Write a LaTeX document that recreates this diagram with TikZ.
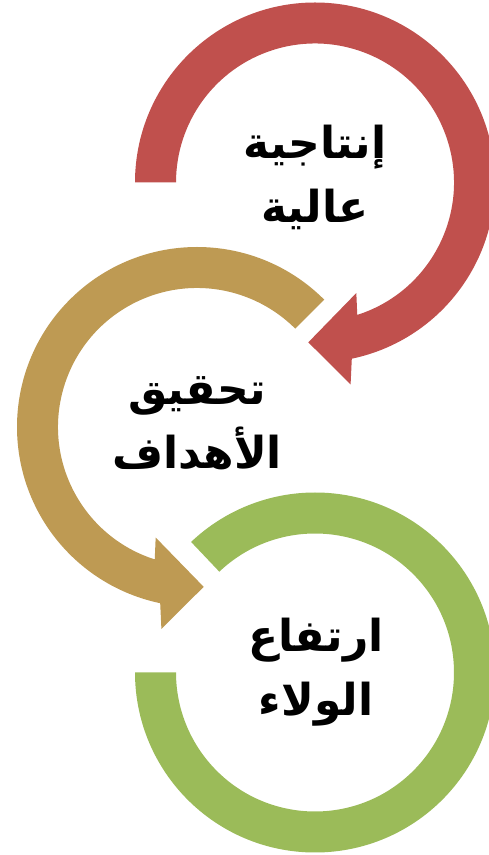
\documentclass[tikz,border=0pt]{standalone}
\usepackage{fontspec}
\newfontfamily\arabicfont[Script=Arabic]{DejaVu Sans}
\TeXXeTstate=1
\definecolor{ringred}{HTML}{C0504D}
\definecolor{ringgold}{HTML}{BE9A53}
\definecolor{ringgreen}{HTML}{9BBB59}
\begin{document}
\begin{tikzpicture}[x=1pt, y=1pt,
        ringtext/.style = {align=center,
        font=\arabicfont\bfseries\fontsize{44}{64}\selectfont}]
    \clip (0,0) rectangle (489,855);
    % red arrow, clockwise
    \fill[ringred, shift={(315,672.5)}] (180:180)
        arc[start angle=180, end angle=-78.2, radius=180]
        -- (-80:205) -- (-92.4:160) -- (-69.5:118) -- (-72.3:139)
        arc[start angle=-72.3, end angle=180, radius=139] -- cycle;
    % gold arrow, counterclockwise
    \fill[ringgold, shift={(197,428)}] (45:180)
        arc[start angle=45, end angle=258.2, radius=180]
        -- (260:205) -- (272.4:160) -- (249.5:118) -- (252.3:139)
        arc[start angle=252.3, end angle=45, radius=139] -- cycle;
    % green ring
    \fill[ringgreen, shift={(315,182.5)}] (180:180)
        arc[start angle=180, end angle=493.5, radius=180]
        -- (133.5:139)
        arc[start angle=133.5, end angle=-180, radius=139] -- cycle;
    \node[ringtext] (productivity) at (315,678) {\beginR إنتاجية\endR\\\beginR عالية\endR};
    \node[ringtext] (goals) at (197,432) {\beginR تحقيق\endR\\\beginR الأهداف\endR};
    \node[ringtext] (loyalty) at (316,183) {\beginR ارتفاع\endR\\\beginR الولاء\endR};
\end{tikzpicture}
\end{document}
